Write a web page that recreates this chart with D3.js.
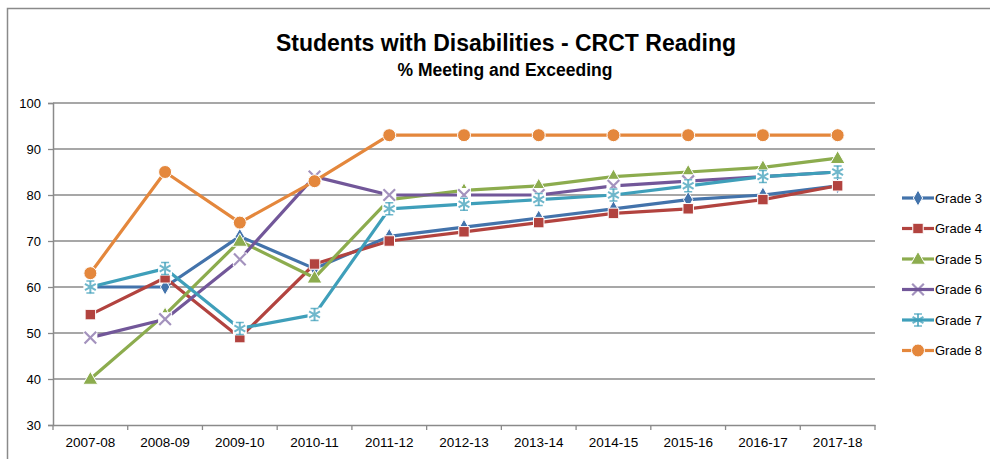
<!DOCTYPE html>
<html>
<head>
<meta charset="utf-8">
<script src="https://cdn.jsdelivr.net/npm/d3@7"></script>
<style>
  body { margin: 0; background: #fff; }
  text { font-family: "Liberation Sans", Arial, sans-serif; fill: #000; }
</style>
</head>
<body>
<div id="paper"></div>
<script>
// data

const years = ['2007-08', '2008-09', '2009-10', '2010-11', '2011-12', '2012-13',
               '2013-14', '2014-15', '2015-16', '2016-17', '2017-18']
const yTicks = [30, 40, 50, 60, 70, 80, 90, 100]
const grade3 = [60, 60, 71, 64, 71, 73, 75, 77, 79, 80, 82]
const grade4 = [54, 62, 49, 65, 70, 72, 74, 76, 77, 79, 82]
const grade5 = [40, 54, 70, 62, 79, 81, 82, 84, 85, 86, 88]
const grade6 = [49, 53, 66, 84, 80, 80, 80, 82, 83, 84, 85]
const grade7 = [60, 64, 51, 54, 77, 78, 79, 80, 82, 84, 85]
const grade8 = [63, 85, 74, 83, 93, 93, 93, 93, 93, 93, 93]

const series = [
    {name: 'Grade 3', values: grade3, color: '#4373ab', marker: 'diamond'},
    {name: 'Grade 4', values: grade4, color: '#b2433f', marker: 'square'},
    {name: 'Grade 5', values: grade5, color: '#8cac4e', marker: 'triangle'},
    {name: 'Grade 6', values: grade6, color: '#725799', marker: 'x'},
    {name: 'Grade 7', values: grade7, color: '#3f9fba', marker: 'star'},
    {name: 'Grade 8', values: grade8, color: '#e4873c', marker: 'circle'}
]

// svg

const W = 990, H = 459
const plot = {left: 53, right: 875, top: 103, bottom: 425}

const svg = d3.select('#paper')
    .append('svg')
    .attr('id', 'canvas')
    .attr('width', W)
    .attr('height', H)

// chart border (runs off the right / bottom)
svg.append('rect')
    .attr('x', 7.5).attr('y', 8.5)
    .attr('width', 1000).attr('height', 500)
    .attr('fill', 'none')
    .attr('stroke', '#8a8a8a')
    .attr('stroke-width', 1.5)

// scales

const x = d3.scaleBand().domain(years).range([plot.left, plot.right])
const y = d3.scaleLinear().domain([30, 100]).range([plot.bottom, plot.top])
const cx = d => x(d) + x.bandwidth() / 2

// gridlines

svg.append('g')
    .selectAll('line')
    .data(yTicks.slice(1))
    .join('line')
    .attr('x1', plot.left).attr('x2', plot.right)
    .attr('y1', d => y(d)).attr('y2', d => y(d))
    .attr('stroke', '#8c8c8c')
    .attr('stroke-width', 1.3)

// axes

const yAxis = svg.append('g')
    .attr('transform', `translate(${plot.left},0)`)
    .call(d3.axisLeft(y).tickValues(yTicks).tickSize(5).tickPadding(7))
yAxis.selectAll('text').attr('font-size', 13).attr('font-family', '"Liberation Sans", Arial, sans-serif')

const xAxis = svg.append('g')
    .attr('transform', `translate(0,${plot.bottom})`)
    .call(d3.axisBottom(x).tickSizeInner(0).tickSizeOuter(0).tickPadding(12))
xAxis.selectAll('text').attr('font-size', 13.5).attr('font-family', '"Liberation Sans", Arial, sans-serif')

// x ticks sit on the band edges
svg.append('g')
    .selectAll('line')
    .data(years.map(d => x(d)).concat([plot.right]))
    .join('line')
    .attr('x1', d => d).attr('x2', d => d)
    .attr('y1', plot.bottom).attr('y2', plot.bottom + 5)

svg.selectAll('.domain, .tick line, g > line')
    .attr('stroke', '#8a8a8a')
    .attr('stroke-width', 1.3)
svg.selectAll('g .domain').attr('stroke-width', 1.5)

// markers

function drawMarker(g, type, color) {
    if (type == 'diamond') {
        g.append('path').attr('d', d3.symbol(d3.symbolDiamond, 75)())
            .attr('fill', color).attr('stroke', '#fff').attr('stroke-width', 1)
    } else if (type == 'square') {
        g.append('path').attr('d', d3.symbol(d3.symbolSquare, 110)())
            .attr('fill', color).attr('stroke', '#fff').attr('stroke-width', 1)
    } else if (type == 'triangle') {
        g.append('path').attr('d', d3.symbol(d3.symbolTriangle, 95)())
            .attr('transform', 'translate(0,1)')
            .attr('fill', color).attr('stroke', '#fff').attr('stroke-width', 1)
    } else if (type == 'circle') {
        g.append('circle').attr('r', 6.5)
            .attr('fill', color).attr('stroke', '#fff').attr('stroke-width', 1)
    } else if (type == 'x') {
        const p = d3.symbol(d3.symbolTimes, 90)()
        g.append('rect').attr('x', -7).attr('y', -7).attr('width', 14).attr('height', 14).attr('fill', '#fff')
        g.append('path').attr('d', p).attr('fill', 'none').attr('stroke', color).attr('stroke-opacity', 0.65).attr('stroke-width', 2.2)
    } else if (type == 'star') {
        const p = d3.symbol(d3.symbolAsterisk, 110)()
        g.append('rect').attr('x', -7).attr('y', -7).attr('width', 14).attr('height', 14).attr('fill', '#fff')
        g.append('path').attr('d', p).attr('fill', 'none').attr('stroke', color).attr('stroke-opacity', 0.75).attr('stroke-width', 2)
        g.append('path').attr('d', 'M-4,-6H4M-4,6H4').attr('stroke', color).attr('stroke-opacity', 0.75).attr('stroke-width', 1.5)
    }
}

// lines, then markers per series

const line = d3.line().x((d, i) => cx(years[i])).y(d => y(d))

series.forEach(s => {
    const g = svg.append('g')
    g.append('path')
        .attr('d', line(s.values))
        .attr('fill', 'none')
        .attr('stroke', s.color)
        .attr('stroke-width', 3.2)
        .attr('stroke-linejoin', 'round')
    g.selectAll('g')
        .data(s.values)
        .join('g')
        .attr('transform', (d, i) => `translate(${cx(years[i])},${y(d)})`)
        .each(function () { drawMarker(d3.select(this), s.marker, s.color) })
})

// legend

const legend = svg.append('g').attr('transform', 'translate(902,198)')
const rowH = 30.5

series.forEach((s, i) => {
    const row = legend.append('g').attr('transform', `translate(0,${i * rowH})`)
    row.append('line')
        .attr('x1', 0).attr('x2', 32)
        .attr('stroke', s.color)
        .attr('stroke-width', 3.2)
    const m = row.append('g').attr('transform', 'translate(16,0)')
    drawMarker(m, s.marker, s.color)
    m.selectAll('rect').remove()
    row.append('text')
        .attr('x', 33)
        .attr('y', 0)
        .attr('dy', '0.35em')
        .attr('font-size', 13)
        .text(s.name)
})

// titles

svg.append('text')
    .attr('x', 506).attr('y', 51)
    .attr('text-anchor', 'middle')
    .attr('font-size', 23)
    .attr('font-weight', 'bold')
    .text('Students with Disabilities - CRCT Reading')

svg.append('text')
    .attr('x', 505).attr('y', 76)
    .attr('text-anchor', 'middle')
    .attr('font-size', 17.5)
    .attr('font-weight', 'bold')
    .text('% Meeting and Exceeding')
</script>
</body>
</html>
